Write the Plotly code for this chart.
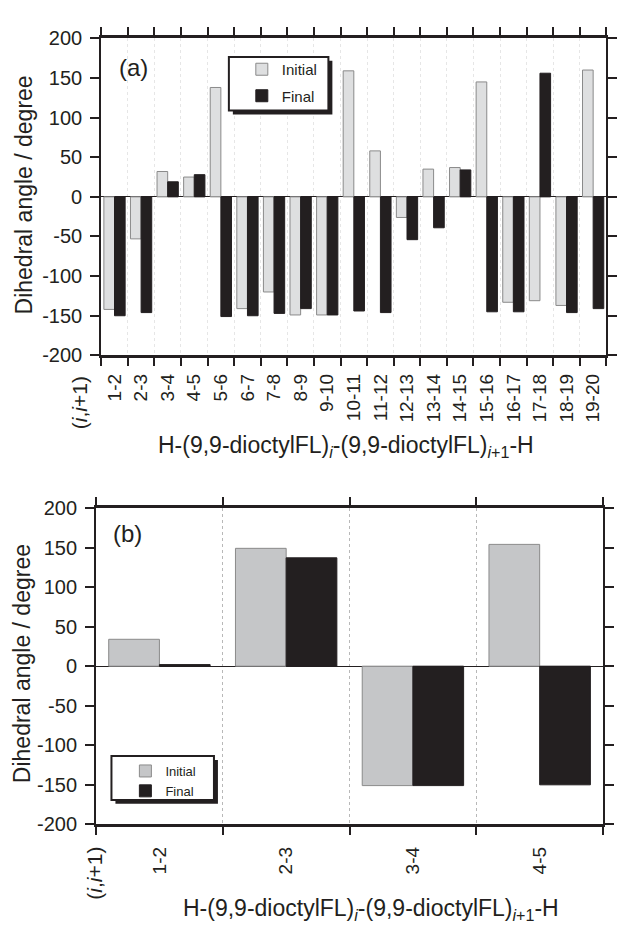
import plotly.graph_objects as go

W, H = 617, 933

# ---------------- data ----------------
pairs_a = ["1-2", "2-3", "3-4", "4-5", "5-6", "6-7", "7-8", "8-9", "9-10", "10-11",
           "11-12", "12-13", "13-14", "14-15", "15-16", "16-17", "17-18", "18-19", "19-20"]
initial_a = [-142, -53, 32, 25, 138, -141, -120, -149, -149, 159,
             58, -26, 35, 37, 145, -133, -131, -137, 160]
final_a = [-150, -146, 19, 28, -151, -150, -147, -141, -149, -144,
           -146, -54, -39, 34, -145, -145, 156, -146, -141]

pairs_b = ["1-2", "2-3", "3-4", "4-5"]
initial_b = [34, 149, -151, 154]
final_b = [2, 137, -151, -150]

y_tick_vals = [200, 150, 100, 50, 0, -50, -100, -150, -200]
y_tick_text = ["200", "150", "100", "50", "0", "-50", "-100", "-150", "-200"]

FONT = "Liberation Sans, Arial, sans-serif"
INK = "#231f20"


def px(x):
    return x / W


def py(y):
    return 1 - y / H


fig = go.Figure()

fig.add_trace(go.Bar(x=pairs_a, y=initial_a, name="Initial", xaxis="x", yaxis="y",
                     marker=dict(color="#dedfe0", line=dict(color="#8a8a8a", width=1)),
                     legend="legend", legendgroup="ia"))
fig.add_trace(go.Bar(x=pairs_a, y=final_a, name="Final", xaxis="x", yaxis="y",
                     marker=dict(color=INK, line=dict(color=INK, width=1)),
                     legend="legend", legendgroup="fa"))
fig.add_trace(go.Bar(x=pairs_b, y=initial_b, name="Initial", xaxis="x2", yaxis="y2",
                     marker=dict(color="#c5c6c8", line=dict(color="#8a8a8a", width=1)),
                     legend="legend2"))
fig.add_trace(go.Bar(x=pairs_b, y=final_b, name="Final", xaxis="x2", yaxis="y2",
                     marker=dict(color=INK, line=dict(color=INK, width=1)),
                     legend="legend2"))

xcommon = dict(type="category", tickson="boundaries", ticks="outside", tickwidth=2,
               tickcolor=INK, showline=True, linecolor=INK, linewidth=3, mirror="ticks",
               showgrid=True, griddash="dot", gridwidth=1, tickangle=-90,
               tickfont=dict(size=19, family=FONT, color=INK), zeroline=False)
ycommon = dict(range=[-200, 200], tickvals=y_tick_vals, ticktext=y_tick_text,
               ticks="outside", ticklen=9, tickwidth=2, tickcolor=INK, showline=True,
               linecolor=INK, linewidth=2, mirror="ticks", showgrid=False,
               zeroline=True, zerolinecolor=INK, zerolinewidth=1,
               tickfont=dict(size=20, family=FONT, color=INK), ticklabelstandoff=4)

fig.update_layout(
    width=W, height=H, margin=dict(l=0, r=0, t=0, b=0),
    paper_bgcolor="white", plot_bgcolor="white",
    barmode="group", bargap=0.2, bargroupgap=0,
    font=dict(family=FONT, color=INK),
    xaxis=dict(xcommon, domain=[px(101.7), px(609.4)], anchor="y", ticklen=8,
               gridcolor="#e6e6e6", ticklabelstandoff=8),
    yaxis=dict(ycommon, domain=[py(352.7), py(28)], anchor="x"),
    xaxis2=dict(xcommon, domain=[px(96.5), px(606)], anchor="y2", ticklen=8,
                gridcolor="#b8b8b8", ticklabelstandoff=12),
    yaxis2=dict(ycommon, domain=[py(833), py(509)], anchor="x2"),
    legend=dict(x=px(243), y=py(43), xanchor="left", yanchor="top",
                bgcolor="rgba(0,0,0,0)", borderwidth=0, traceorder="grouped",
                tracegroupgap=4, font=dict(size=15, family=FONT, color=INK)),
    legend2=dict(x=px(126), y=py(763), xanchor="left", yanchor="top",
                 bgcolor="rgba(0,0,0,0)", borderwidth=0,
                 font=dict(size=13, family=FONT, color=INK)),
)

# legend frames with drop shadows
for (x0, y0, x1, y1) in [(230, 47, 330, 102), (112, 763, 215, 808)]:
    fig.add_shape(type="rect", xref="paper", yref="paper", layer="above",
                  x0=px(x0 + 4), x1=px(x1 + 4), y0=py(y1 + 4), y1=py(y0 + 4),
                  fillcolor=INK, line=dict(width=0))
    fig.add_shape(type="rect", xref="paper", yref="paper", layer="above",
                  x0=px(x0), x1=px(x1), y0=py(y1), y1=py(y0),
                  fillcolor="white", line=dict(color=INK, width=2))


def ann(text, x, y, size, angle=0):
    fig.add_annotation(text=text, x=px(x), y=py(y), xref="paper", yref="paper",
                       xanchor="center", yanchor="middle", showarrow=False,
                       textangle=angle, font=dict(size=size, family=FONT, color=INK))


xtitle = "H-(9,9-dioctylFL)<sub><i>i</i></sub>-(9,9-dioctylFL)<sub><i>i</i>+1</sub>-H"
ytitle = "Dihedral angle / degree"
pair_lbl = "(<i>i</i>,<i>i</i>+1)"

ann("(a)", 134, 58, 24)
ann("(b)", 128, 535, 24)
ann(ytitle, 24, 188, 23, -90)
ann(ytitle, 22, 668, 23, -90)
ann(pair_lbl, 80, 401, 21, -90)
ann(pair_lbl, 95, 883, 21, -90)
ann(xtitle, 348, 446, 23)
ann(xtitle, 373, 920, 23)

fig.write_html("out.html")
